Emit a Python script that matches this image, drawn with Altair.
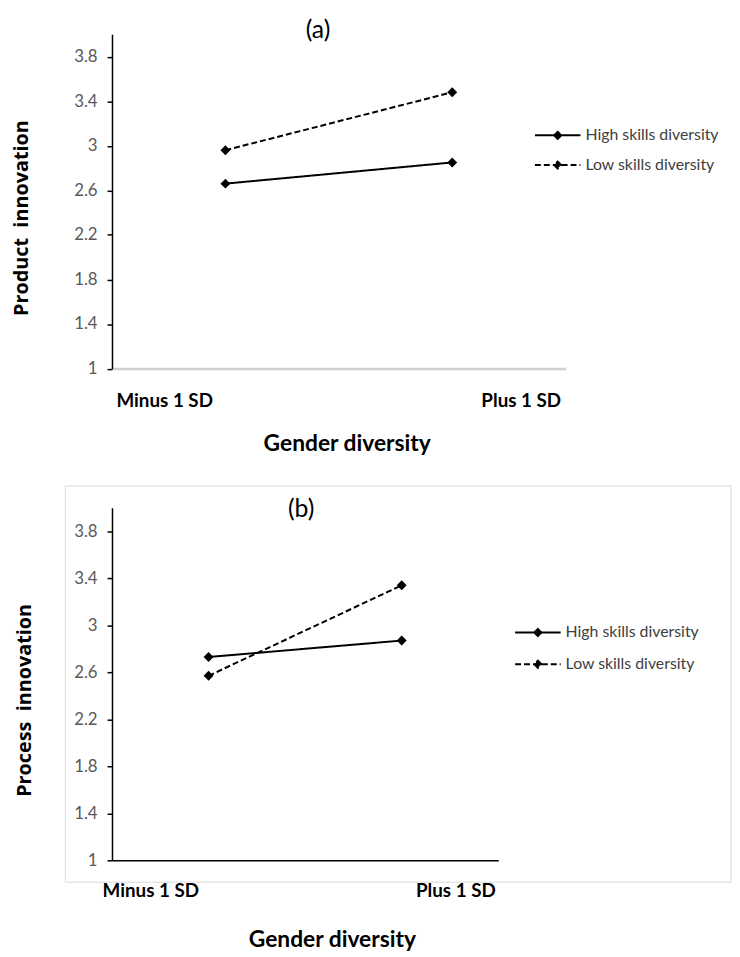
import altair as alt
import pandas as pd

categories = ["Minus 1 SD", "Plus 1 SD"]
series = ["High skills diversity", "Low skills diversity"]
product_high = [2.66, 2.85]
product_low = [2.96, 3.48]
process_high = [2.73, 2.87]
process_low = [2.57, 3.34]
y_ticks = [1, 1.4, 1.8, 2.2, 2.6, 3, 3.4, 3.8]
y_domain = [1, 4]

FONT = "Lato"
LEGEND_PATH = "M-4,0H4M0,-0.62L0.62,0L0,0.62L-0.62,0Z"


def frame(high, low):
    rows = []
    for s, vals in zip(series, [high, low]):
        for c, v in zip(categories, vals):
            rows.append({"gd": c, "series": s, "value": v})
    return pd.DataFrame(rows)


def panel(high, low, ytitle, letter, W, H, xaxis_color, xaxis_width,
          ytitle_x, ytitle_y, xtitle_x, xtitle_y, legend_x, legend_y, row_pad,
          letter_x, letter_y, label_pad, left_off, right_off, box=None):
    df = frame(high, low)
    is_first = "datum.value == 'Minus 1 SD'"
    x = alt.X(
        "gd:N", sort=categories,
        scale=alt.Scale(type="point", padding=0.5),
        axis=alt.Axis(
            title="Gender diversity", titleFont=FONT, titleFontSize=23,
            titleFontWeight="bold", titleColor="#000000",
            titleX=xtitle_x, titleY=xtitle_y, titleBaseline="middle",
            ticks=False, tickSize=0, labelAngle=0,
            labelFont=FONT, labelFontSize=19, labelFontWeight="bold",
            labelColor="#000000", labelBaseline="middle", labelPadding=label_pad,
            labelAlign={"condition": {"test": is_first, "value": "left"}, "value": "right"},
            labelOffset={"condition": {"test": is_first, "value": left_off}, "value": right_off},
            domainColor=xaxis_color, domainWidth=xaxis_width,
        ),
    )
    y = alt.Y(
        "value:Q",
        scale=alt.Scale(domain=y_domain, nice=False, zero=False),
        axis=alt.Axis(
            values=y_ticks, format="~g", grid=False,
            domainColor="#000000", domainWidth=1.5,
            tickColor="#000000", tickWidth=1.5, tickSize=5,
            labelPadding=10, labelFont=FONT, labelFontSize=17, labelColor="#595959",
            title=ytitle, titleFont="Open Sans", titleFontSize=20,
            titleFontWeight="bold", titleColor="#000000",
            titleX=ytitle_x, titleY=ytitle_y, titleBaseline="middle", titleAngle=270,
        ),
    )
    lines = alt.Chart(df).mark_line(color="black", strokeWidth=2).encode(
        x=x, y=y,
        strokeDash=alt.StrokeDash(
            "series:N", sort=series, title=None,
            scale=alt.Scale(domain=series, range=[[1, 0], [6, 3]]),
            legend=alt.Legend(
                orient="none", legendX=legend_x, legendY=legend_y,
                symbolType=LEGEND_PATH, symbolSize=132, symbolStrokeWidth=2,
                symbolStrokeColor="black", symbolFillColor="black",
                labelFont=FONT, labelFontSize=16, labelColor="#404040",
                labelOffset=20, rowPadding=row_pad, labelLimit=300,
            ),
        ),
    )
    points = alt.Chart(df).mark_point(
        shape="diamond", filled=True, size=100, color="black", opacity=1
    ).encode(x=x, y=y, detail="series:N")
    letter_mark = alt.Chart(pd.DataFrame({"t": [letter]})).mark_text(
        font=FONT, fontSize=25, color="#000000"
    ).encode(text="t:N", x=alt.value(letter_x), y=alt.value(letter_y))
    layers = []
    if box is not None:
        bx, bx2, by, by2 = box
        layers.append(
            alt.Chart(pd.DataFrame({"b": [0]})).mark_rect(
                fill="white", fillOpacity=0, stroke="#d9d9d9", strokeWidth=1
            ).encode(x=alt.value(bx), x2=alt.value(bx2), y=alt.value(by), y2=alt.value(by2))
        )
    layers += [lines, points, letter_mark]
    return alt.layer(*layers).properties(width=W, height=H)


W1, H1 = 458, 337.5
W2, H2 = 390, 356

top = panel(
    product_high, product_low, "Product\u00a0 innovation", "(a)", W1, H1,
    "#d0d0d0", 2.5,
    ytitle_x=-91, ytitle_y=185, xtitle_x=237, xtitle_y=75.5,
    legend_x=442, legend_y=94, row_pad=14,
    letter_x=208, letter_y=-4, label_pad=32,
    left_off=-(W1 / 4) + 4, right_off=W1 / 4 - 5,
)
bottom = panel(
    process_high, process_low, "Process\u00a0 innovation", "(b)", W2, H2,
    "#000000", 1.5,
    ytitle_x=-88, ytitle_y=194, xtitle_x=222, xtitle_y=80,
    legend_x=422, legend_y=118, row_pad=16,
    letter_x=191, letter_y=1, label_pad=31,
    left_off=-(W2 / 4) - 10, right_off=W2 / 4 - 3,
    box=(-47, 625, -22, 378),
)

chart = alt.vconcat(top, bottom, spacing=30).resolve_scale(
    strokeDash="independent", x="independent", y="independent"
).properties(
    padding={"left": 4, "top": 6, "right": 0, "bottom": 0}
).configure_view(stroke=None)

chart.save("out.html", embed_options={"renderer": "svg", "actions": False})
